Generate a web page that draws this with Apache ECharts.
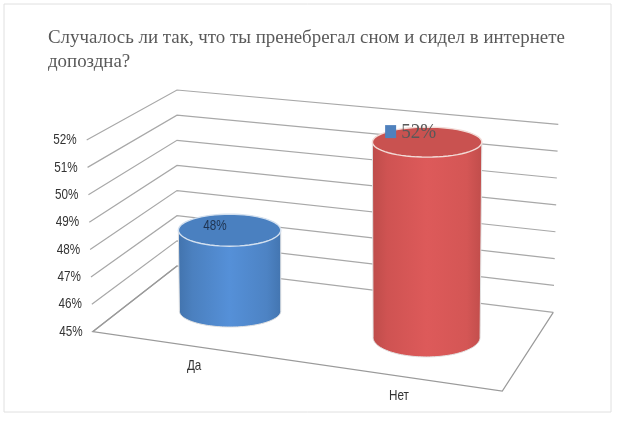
<!DOCTYPE html>
<html><head><meta charset="utf-8">
<style>html,body{margin:0;padding:0;background:#fff}#c{width:632px;height:425px;filter:blur(0.35px)}</style>
<script src="https://cdn.jsdelivr.net/npm/echarts@6/dist/echarts.min.js"></script>
</head><body><div id="c"></div>
<script>
const titleText = 'Случалось ли так, что ты пренебрегал сном и сидел в интернете\nдопоздна?';
const categories = ['Да', 'Нет'];
const values = [48, 52];
const ticks = [45, 46, 47, 48, 49, 50, 51, 52];

// perspective box: screen corners of the plot volume
const box = {
  floor: {fl:[92.7,331.7], fr:[502.3,391], br:[553.3,312.3], bl:[177,266]},
  top:   {fl:[86.7,140],   fr:[500,182],   br:[558.3,124.3], bl:[177,90]}
};
const grid = {left:92, top:140, width:410, height:192};
const SANS = '"Liberation Sans",sans-serif';
const SERIF = '"Liberation Serif",serif';
const GRID_COL = '#a8a8a8';

const lerp = (a,b,t)=>[a[0]+(b[0]-a[0])*t, a[1]+(b[1]-a[1])*t];
function quad(q,u,d){ return lerp(lerp(q.fl,q.fr,u), lerp(q.bl,q.br,u), d); }
// u,h in 0..1 on the flat cartesian grid; d = depth 0 front .. 1 back
function project(u,h,d){ return lerp(quad(box.floor,u,d), quad(box.top,u,d), h); }
function norm(pt,cs){ return [(pt[0]-cs.x)/cs.width, (cs.y+cs.height-pt[1])/cs.height]; }

const barStyle = [
  {stops:['#4273ad','#4b80bf','#5590d8','#4d83c4','#4375b0'], top:'#4a80c0', rim:'#d3e0ef', rxTop:51.2, ryTop:16, rxBase:50.7, ryBase:16},
  {stops:['#bd4c4a','#cf5352','#dd5a5a','#d45655','#c04d4b'], top:'#c95250', rim:'#f2dcd8', rxTop:54.7, ryTop:15, rxBase:53.5, ryBase:19.5}
];
function ell(c,rx,ry,from,to){ const p=[]; const n=64;
  for(let i=0;i<=n;i++){const a=from+(to-from)*i/n; p.push([c[0]+rx*Math.cos(a), c[1]+ry*Math.sin(a)]);}
  return p; }
function label(text,x,y,align,size,family,color,sx){
  return {type:'text',x:x,y:y,scaleX:sx,style:{text:text,x:0,y:0,align:align,verticalAlign:'middle',fontSize:size,fontFamily:family,fill:color}};
}

function renderGrid(params,api){
  const cs=params.coordSys, n=norm(api.coord([0,api.value(1)]),cs), h=n[1];
  const a=project(0,h,0), b=project(0,h,1), c=project(1,h,1);
  return {type:'polyline',shape:{points:[a,b,c]},silent:true,style:{stroke:GRID_COL,lineWidth:1.2,fill:null}};
}
function renderFloor(params,api){
  const q=box.floor;
  return {type:'polyline',shape:{points:[q.bl,q.fl,q.fr,q.br]},style:{stroke:'#9a9a9a',lineWidth:1.2,fill:null}};
}
function renderBar(params,api){
  const cs=params.coordSys, i=api.value(0), s=barStyle[i];
  const n=norm(api.coord([i,api.value(1)]),cs), u=n[0];
  const t0=project(u,n[1],0.5), b0=project(u,0,0.5);
  const t=[t0[0]-2.7,t0[1]-1.5], b=[b0[0]-3,b0[1]-1];
  const side=[].concat(ell(t,s.rxTop,0.01,Math.PI,2*Math.PI), ell(b,s.rxBase,s.ryBase,0,Math.PI));
  const g=s.stops;
  const kids=[
    {type:'polygon',shape:{points:side},style:{
      stroke:'#e2e2e2',lineWidth:1,
      fill:new echarts.graphic.LinearGradient(0,0,1,0,[{offset:0,color:g[0]},{offset:.14,color:g[1]},{offset:.5,color:g[2]},{offset:.86,color:g[3]},{offset:1,color:g[4]}])}},
    {type:'polygon',shape:{points:ell(t,s.rxTop,s.ryTop,0,2*Math.PI)},style:{fill:s.top,stroke:s.rim,lineWidth:1.4}}
  ];
  if(i===0){
    kids.push(label(values[i]+'%',t[0]-14.5,t[1]-4.5,'center',15,SANS,'#1f3350',0.78));
  } else {
    kids.push({type:'rect',shape:{x:t[0]-42,y:t[1]-17,width:11,height:13},style:{fill:'#4f81bd'}});
    kids.push(label(values[i]+'%',t[0]-26,t[1]-10,'left',22,SERIF,'#595959',0.87));
  }
  return {type:'group',children:kids};
}
function renderTick(params,api){
  const cs=params.coordSys, n=norm(api.coord([0,api.value(1)]),cs);
  const p=project(0,n[1],0);
  return label(api.value(1)+'%',p[0]-10,p[1],'right',15,SANS,'#333333',0.78);
}
function renderCat(params,api){
  const cs=params.coordSys, i=api.value(0), n=norm(api.coord([i,ticks[0]]),cs);
  const p=project(n[0],0,0);
  return label(categories[i],p[0]-1,p[1]+19.5,'center',15,SANS,'#333333',0.78);
}

const chart=echarts.init(document.getElementById('c'));
const custom=(name,data,fn,z)=>({type:'custom',name,data,renderItem:fn,z,clip:false,silent:true,animation:false,encode:{x:0,y:1}});
chart.setOption({
  animation:false,
  backgroundColor:'#fff',
  title:{text:titleText,left:43,top:21,textStyle:{fontFamily:SERIF,fontSize:18.9,fontWeight:'normal',color:'#595959',lineHeight:24}},
  grid:Object.assign({},grid),
  xAxis:{type:'category',data:categories,show:false},
  yAxis:{type:'value',min:45,max:52,interval:1,show:false},
  graphic:[{type:'rect',z:-1,shape:{x:4,y:4,width:607,height:408},style:{fill:'#fff',stroke:'#e0e0e0',lineWidth:1}}],
  series:[
    custom('grid',ticks.map(t=>[0,t]),renderGrid,1),
    custom('floor',[[0,ticks[0]]],renderFloor,2),
    custom('values',values.map((v,i)=>[i,v]),renderBar,3),
    custom('ticks',ticks.map(t=>[0,t]),renderTick,4),
    custom('cats',categories.map((c,i)=>[i,ticks[0]]),renderCat,4)
  ]
});
</script></body></html>
